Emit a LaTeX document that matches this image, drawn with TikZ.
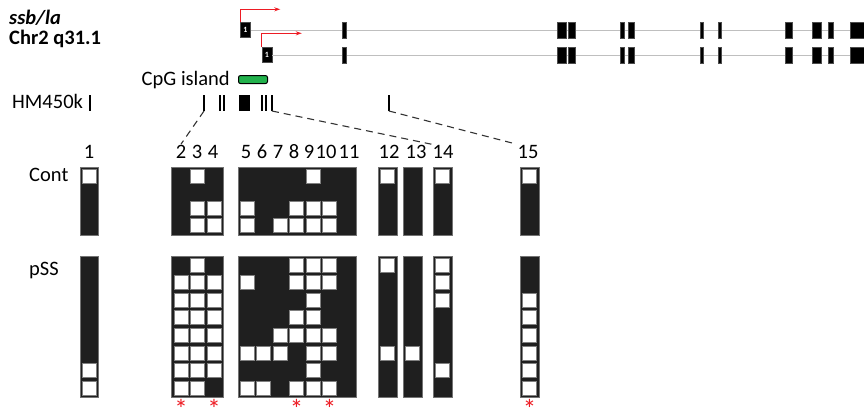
\documentclass[tikz,border=0pt]{standalone}
\usepackage{fontspec}
\setmainfont{Carlito}
\usepackage{xcolor}
\usepackage{tikz}
\usetikzlibrary{positioning, arrows.meta}

\definecolor{cpggreen}{RGB}{34,177,76}
\definecolor{tssred}{RGB}{237,28,36}
\newcommand{\figfont}{\fontsize{20.5}{24}\selectfont}

\begin{document}
\begin{tikzpicture}[
    x=1pt, y=-1pt,
    every node/.style={font=\figfont, inner sep=1pt},
    exon/.style={fill=black, draw=black!70, line width=0.4pt},
    firstexon/.style={exon, minimum width=10pt, minimum height=15pt, inner sep=0pt, text=white, font=\fontsize{8}{9}\selectfont\bfseries},
    intron/.style={draw=black!25, line width=1pt},
    tss/.style={draw=tssred, line width=1.2pt, -{Stealth[length=6pt, width=4pt]}},
    cpg/.style={draw=black, fill=cpggreen, line width=1pt, rounded corners=2pt, minimum width=29pt, minimum height=8pt, inner sep=0pt},
    probe/.style={draw=black, line width=2pt},
    link/.style={draw=black!80, line width=1.1pt, dash pattern=on 7pt off 5pt},
    block/.style={fill=black!88, draw=black!55, line width=0.8pt},
    cell/.style={fill=white, draw=black!50, line width=0.8pt, minimum size=14pt, inner sep=0pt},
    sigstar/.style={text=tssred, font=\fontsize{27}{30}\selectfont, inner sep=0pt, text height=20pt, text depth=-11pt}
]
\useasboundingbox (0,0) rectangle (864,415);

\node[anchor=base west, font=\figfont\bfseries\itshape] (gene) at (8,24) {ssb/la};
\node[anchor=base west, font=\figfont\bfseries] (locus) at (8,44) {Chr2 q31.1};

\node[firstexon] (ex1a) at (245.5,30) {1};
\node[firstexon] (ex1b) at (267,55) {1};
\coordinate (end1) at (864,30);
\coordinate (end2) at (864,55);
\draw[intron] (ex1a) -- (end1);
\draw[intron] (ex1b) -- (end2);
\foreach \ya/\yb in {22/38, 47/63}
  \foreach \xa/\xb in {342/346, 557/566, 568/575, 620/624, 628/634, 700/703, 718/721, 785/792, 812/821, 828/833, 850/864}
    \draw[exon] (\xa,\ya) rectangle (\xb,\yb);
\draw[tss] (ex1a.north west) -- ++(0,-13) -- ++(40,0);
\draw[tss] (ex1b.north west) -- ++(0,-14) -- ++(40,0);

\node[anchor=base east] (cpglab) at (231,85) {CpG island};
\node[cpg, right=7pt of cpglab] (cpg) {};

\node[anchor=base west] (hmlab) at (11,108) {HM450k};
\foreach \x [count=\i] in {90,204,220,224,240,241.5,243,244.5,246.5,248,249,262,266,272,389}
  \draw[probe] (\x,95) -- (\x,111) coordinate (pr\i);

\foreach \lab/\x in {1/89, 2/181, 3/197, 4/213, 5/246, 6/262, 7/278, 8/294, 9/309, 10/326, 11/349, 12/389, 13/416, 14/443, 15/528}
  \node (l\lab) at (\x,152) {\lab};
\draw[link] (pr2) -- (l2.north);
\draw[link] (pr14) -- (l14.north west);
\draw[link] (pr15) -- (l15.north west);

\node[anchor=base west] (cont) at (28,181) {Cont};
\node[anchor=base west] (pss) at (28,275) {pSS};

\foreach \ya/\yb in {167/235, 256/397}
  \foreach \xa/\xb in {80/98, 171/223, 238/356, 378/397, 403/422, 433/452, 520/539}
    \draw[block] (\xa,\ya) rectangle (\xb,\yb);

\foreach \c/\x/\rows in {1/89/{1}, 3/197.5/{1,3,4}, 4/214/{3,4}, 5/247/{3,4}, 7/280/{4}, 8/296.5/{3,4}, 9/313/{1,3,4}, 10/329.5/{3,4}, 12/387.5/{1}, 14/442.5/{1}, 15/529.5/{1}}
  \foreach \r in \rows
    \node[cell] (cont-\c-\r) at (\x,{176+16.3*(\r-1)}) {};

\foreach \c/\x/\rows in {1/89/{7,8}, 2/181/{2,3,4,5,6,7,8}, 3/197.5/{1,2,3,4,5,6,7,8}, 4/214/{2,3,4,5,6,7}, 5/247/{2,6,8}, 6/263.5/{6,8}, 7/280/{5,6}, 8/296.5/{1,2,4,5,8}, 9/313/{1,2,3,4,5,6,7,8}, 10/329.5/{1,2,5,6,8}, 12/387.5/{1,6}, 13/412.5/{6}, 14/442.5/{1,2,3,7}, 15/529.5/{3,4,5,6,7,8}}
  \foreach \r in \rows
    \node[cell] (pss-\c-\r) at (\x,{265+17.6*(\r-1)}) {};

\foreach \c/\x in {2/181, 4/214, 8/296.5, 10/329.5, 15/529.5}
  \node[sigstar] (star\c) at (\x,408) {*};
\end{tikzpicture}
\end{document}
